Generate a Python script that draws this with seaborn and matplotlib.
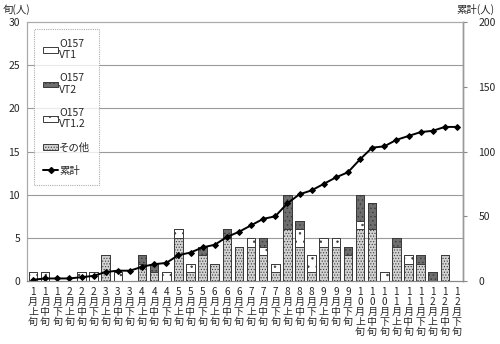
import numpy as np
import pandas as pd
import matplotlib
matplotlib.use("Agg")
import matplotlib.pyplot as plt
import seaborn as sns
from matplotlib.patches import Patch
from matplotlib.lines import Line2D

# ---- data ----
months = ["1", "1", "1", "2", "2", "2", "3", "3", "3", "4", "4", "4",
          "5", "5", "5", "6", "6", "6", "7", "7", "7", "8", "8", "8",
          "9", "9", "9", "10", "10", "10", "11", "11", "11", "12", "12", "12"]
periods = ["上", "中", "下"] * 12

other = [0, 0, 0, 0, 0, 0, 3, 0, 0, 2, 1, 0, 5, 1, 3, 2, 5, 4,
         4, 3, 1, 6, 4, 1, 4, 4, 3, 6, 6, 0, 4, 2, 2, 0, 3, 0]
vt1 = [0, 0, 0, 0, 0, 0, 0, 0, 0, 0, 0, 0, 0, 0, 0, 0, 0, 0,
       0, 0, 0, 0, 0, 0, 0, 0, 0, 0, 0, 0, 0, 0, 0, 0, 0, 0]
vt2 = [0, 0, 0, 0, 0, 0, 0, 0, 0, 1, 1, 0, 0, 0, 1, 0, 1, 0,
       0, 1, 0, 4, 1, 0, 0, 0, 1, 3, 3, 0, 1, 0, 1, 1, 0, 0]
vt12 = [1, 1, 0, 0, 1, 1, 0, 1, 0, 0, 0, 1, 1, 1, 0, 0, 0, 0,
        1, 1, 1, 0, 2, 2, 1, 1, 0, 1, 0, 1, 0, 1, 0, 0, 0, 0]
cumulative = [1, 2, 2, 2, 3, 4, 7, 8, 8, 11, 13, 14, 20, 22, 26, 28, 34, 38,
              43, 48, 50, 60, 67, 70, 75, 80, 84, 94, 103, 104, 109, 112, 115, 116, 119, 119]

labels = ["\n".join(list(m) + ["月", p, "旬"]) for m, p in zip(months, periods)]

sns.set_theme(style="white")
plt.rcParams["font.family"] = ["Noto Sans CJK JP", "DejaVu Sans"]
plt.rcParams["hatch.linewidth"] = 0.5

df = pd.DataFrame({"label": labels, "other": other, "vt1": vt1, "vt2": vt2, "vt12": vt12})
df["l1"] = df["other"]
df["l2"] = df["l1"] + df["vt12"]
df["l3"] = df["l2"] + df["vt2"]
df["l4"] = df["l3"] + df["vt1"]

fig = plt.figure(figsize=(5.0, 3.44), dpi=100)
ax = fig.add_axes([0.054, 0.183, 0.872, 0.753])

edge = "#3a3a3a"
styles = {
    "vt1": dict(color="#ffffff", hatch=None),
    "vt2": dict(color="#6e6e6e", hatch="...."),
    "vt12": dict(color="#ffffff", hatch=". ."),
    "other": dict(color="#d2d2d2", hatch="......"),
}
layers = [("l4", "vt1"), ("l3", "vt2"), ("l2", "vt12"), ("l1", "other")]
for col, key in layers:
    st = styles[key]
    kw = dict(hatch=st["hatch"]) if st["hatch"] else {}
    sns.barplot(data=df, x="label", y=col, order=labels, color=st["color"],
                saturation=1, width=0.7, edgecolor=edge, linewidth=0.7,
                ax=ax, **kw)

ax.set_xlim(-0.5, len(labels) - 0.5)
ax.set_ylim(0, 30)
ax.set_yticks([0, 5, 10, 15, 20, 25, 30])
ax.set_xlabel("")
ax.set_ylabel("")
for y in [5, 10, 15, 20, 25]:
    ax.axhline(y, color="#9a9a9a", lw=0.8, zorder=0)
ax.tick_params(axis="y", length=0, pad=5, labelsize=7.5)
ax.tick_params(axis="x", length=0, pad=4, labelsize=7.2)
for t in ax.get_xticklabels():
    t.set_linespacing(1.0)
    t.set_verticalalignment("top")

ax2 = ax.twinx()
pos = np.arange(len(labels))
sns.lineplot(x=pos, y=cumulative, ax=ax2, color="black", lw=1.4,
             marker="D", markersize=3, markeredgecolor="black")
ax2.set_ylim(0, 200)
ax2.set_yticks([0, 50, 100, 150, 200])
ax2.set_ylabel("")
ax2.tick_params(axis="y", length=3, width=0.8, color="#888888", pad=8, labelsize=7.5, direction="out")
ax.set_xlim(-0.5, len(labels) - 0.5)

for a in (ax, ax2):
    for s in ["left", "top"]:
        a.spines[s].set_color("#aaaaaa")
        a.spines[s].set_linestyle((0, (1, 1)))
        a.spines[s].set_linewidth(0.8)
    a.spines["right"].set_color("#999999")
    a.spines["right"].set_linewidth(1.0)
    a.spines["bottom"].set_color("#888888")
    a.spines["bottom"].set_linewidth(0.8)

handles = [
    Patch(facecolor=styles["vt1"]["color"], edgecolor=edge, lw=0.7),
    Patch(facecolor=styles["vt2"]["color"], edgecolor=edge, lw=0.7, hatch="...."),
    Patch(facecolor=styles["vt12"]["color"], edgecolor=edge, lw=0.7, hatch=". ."),
    Patch(facecolor=styles["other"]["color"], edgecolor=edge, lw=0.7, hatch="......"),
    Line2D([], [], color="black", lw=1.4, marker="D", markersize=3),
]
names = ["O157\nVT1", "O157\nVT2", "O157\nVT1.2", "その他", "累計"]
leg = ax2.legend(handles, names, loc="upper left", bbox_to_anchor=(0.016, 0.972),
                 fontsize=7.5, frameon=True, fancybox=False, handlelength=1.4,
                 handleheight=0.45, handletextpad=0.1, labelspacing=1.25,
                 borderpad=0.9, borderaxespad=0)
leg.get_frame().set_edgecolor("#999999")
leg.get_frame().set_linestyle((0, (1, 1)))
leg.get_frame().set_linewidth(0.8)

fig.text(0.006, 0.972, "旬(人)", fontsize=7.5, ha="left", va="center")
fig.text(0.99, 0.972, "累計(人)", fontsize=7.5, ha="right", va="center")

fig.savefig("out.png", dpi=100)
